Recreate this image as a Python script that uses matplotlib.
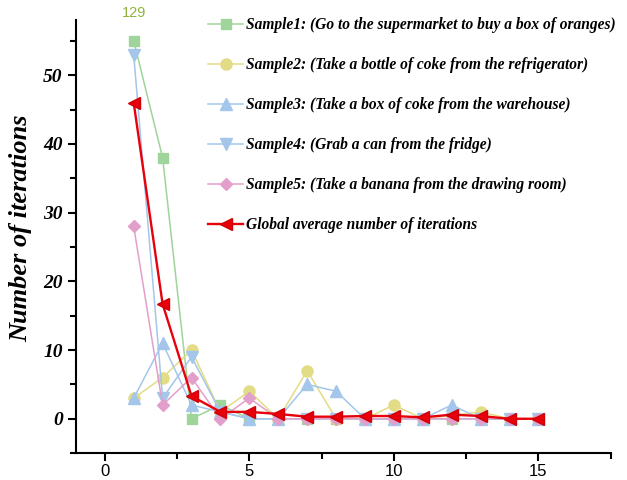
import matplotlib
matplotlib.use("Agg")
import matplotlib.pyplot as plt
from matplotlib.ticker import MultipleLocator

x = list(range(1, 16))
sample1 = [55, 38, 0, 2, 0, 0, 0, 0, 0, 0, 0, 0, 0, 0, 0]
sample2 = [3, 6, 10, 1, 4, 0, 7, 0, 0, 2, 0, 0.5, 1, 0, 0]
sample3 = [3, 11, 2, 1, 0, 0, 5, 4, 0, 0, 0, 2, 0, 0, 0]
sample4 = [53, 3, 9, 1, 0, 0, 0, 0, 0, 0, 0, 0, 0, 0, 0]
sample5 = [28, 2, 6, 0, 3, 0, 0, 0, 0, 0, 0, 0, 0, 0, 0]
average = [46, 16.7, 3.3, 1.0, 1.0, 0.7, 0.3, 0.3, 0.4, 0.4, 0.2, 0.6, 0.4, 0.0, 0.0]
labels = [
    "Sample1: (Go to the supermarket to buy a box of oranges)",
    "Sample2: (Take a bottle of coke from the refrigerator)",
    "Sample3: (Take a box of coke from the warehouse)",
    "Sample4: (Grab a can from the fridge)",
    "Sample5: (Take a banana from the drawing room)",
    "Global average number of iterations",
]
peak_label = "129"

fig = plt.figure(figsize=(6.27, 4.8), dpi=100)
ax = fig.add_axes([0.121, 0.056, 0.853, 0.902])

series = [sample1, sample2, sample3, sample4, sample5]
colors = ["#9fd49a", "#e2dc86", "#a3c6ea", "#a3c6ea", "#e39fcb"]
markers = ["s", "o", "^", "v", "D"]
msizes = [7, 8, 8, 8, 6.5]
for s, c, m, ms, lab in zip(series, colors, markers, msizes, labels[:5]):
    ax.plot(x, s, color=c, marker=m, markersize=ms, linewidth=1.1, label=lab)
ax.plot(x, average, color="#e8000b", marker="<", markersize=8, linewidth=1.7,
        markeredgecolor="#d00008", label=labels[5])

ax.text(1, 58.0, peak_label, color="#8db33c", fontsize=10.5, ha="center", va="bottom",
        family="Liberation Sans", clip_on=False)

ax.set_xlim(-1, 17.5)
ax.set_ylim(-5, 58)
ax.xaxis.set_major_locator(MultipleLocator(5))
ax.xaxis.set_minor_locator(MultipleLocator(2.5))
ax.yaxis.set_major_locator(MultipleLocator(10))
ax.yaxis.set_minor_locator(MultipleLocator(5))
ax.spines["top"].set_visible(False)
ax.spines["right"].set_visible(False)
for sp in ["left", "bottom"]:
    ax.spines[sp].set_linewidth(1.5)
ax.tick_params(which="major", direction="out", length=6, width=1.5)
ax.tick_params(which="minor", direction="out", length=4, width=1.5)
ax.tick_params(axis="x", pad=2)
for t in ax.get_xticklabels():
    t.set_family("Liberation Sans")
    t.set_fontsize(12)
for t in ax.get_yticklabels():
    t.set_family("Liberation Serif")
    t.set_fontsize(14)
    t.set_fontweight("bold")
    t.set_fontstyle("italic")
ax.set_ylabel("Number of iterations", family="Liberation Serif", fontsize=19,
              fontweight="bold", fontstyle="italic", labelpad=2)
ax.yaxis.set_label_coords(-0.082, 0.52)

leg = ax.legend(loc="upper left", bbox_to_anchor=(0.322, 0.977),
                bbox_transform=fig.transFigure, frameon=False,
                prop={"family": "Liberation Serif", "size": 11.2,
                      "weight": "bold", "style": "italic"},
                labelspacing=1.54, handlelength=2.25, handletextpad=0.2,
                borderaxespad=0)

fig.savefig("out.png", dpi=100)
